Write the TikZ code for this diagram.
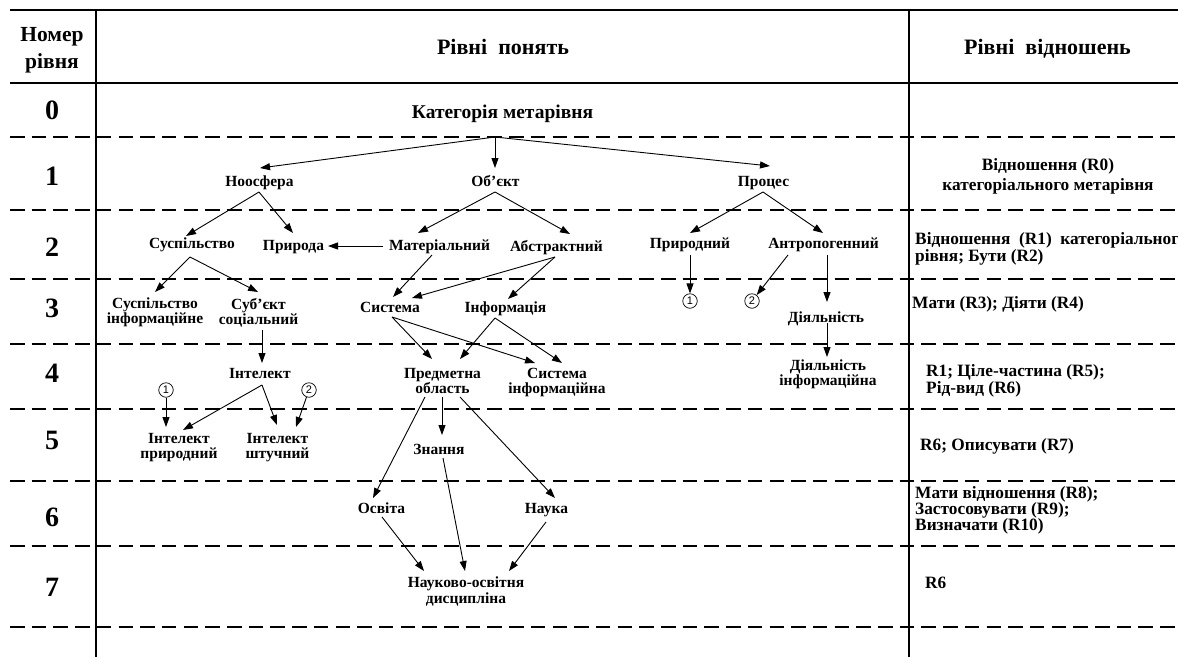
\documentclass[tikz,border=0pt]{standalone}
\usepackage{fontspec}
\setmainfont{Liberation Serif}
\setsansfont{Liberation Sans}
\usetikzlibrary{arrows.meta,calc}
\tikzset{
  cpt/.style={font=\bfseries\fontsize{15.5}{15}\selectfont, inner sep=0pt, align=center, anchor=north},
  one/.style={text height=10pt, text depth=0pt},
  rel/.style={font=\bfseries\fontsize{17.3}{16}\selectfont, inner sep=0pt, align=left, anchor=north west},
  num/.style={font=\bfseries\fontsize{28}{28}\selectfont, inner sep=0pt},
  hdr/.style={font=\bfseries\fontsize{22}{22}\selectfont, inner sep=0pt, anchor=base},
  arr/.style={-{Triangle[length=10pt,width=7pt]}, line width=0.9pt},
  circ/.style={circle, draw, line width=0.7pt, minimum size=14.5pt, inner sep=0pt, font=\sffamily\fontsize{11}{11}\selectfont},
  dl/.style={line width=2pt, dash pattern=on 14.5pt off 7.2pt},
  sl/.style={line width=2pt},
}
\begin{document}
\begin{tikzpicture}[x=1pt,y=-1pt]
\useasboundingbox (0,0) rectangle (1178,657);
% table frame
\draw[sl] (10,10) -- (1178,10);
\draw[sl] (10,83) -- (1178,83);
\draw[sl] (96,10) -- (96,657);
\draw[sl] (909,10) -- (909,657);
\foreach \yy in {137,210,279,344,409,481,546,627}
  \draw[dl] (10,\yy) -- (1178,\yy);
% headers
\node[font=\bfseries\fontsize{21.5}{27}\selectfont, inner sep=0pt, align=center, anchor=north] (hnum) at (52,27.5) {Номер\\рівня};
\node[hdr] (hcon) at (503,54) {Рівні\ \ понять};
\node[hdr] (hrel) at (1047.5,54) {Рівні\ \ відношень};
% level numbers
\node[num] (n0) at (52,110) {0};
\node[num] (n1) at (52,176.5) {1};
\node[num] (n2) at (52,247) {2};
\node[num] (n3) at (52,308) {3};
\node[num] (n4) at (52,373) {4};
\node[num] (n5) at (52,440) {5};
\node[num] (n6) at (52,517) {6};
\node[num] (n7) at (52,587.5) {7};
% concepts
\node[cpt,one,font=\bfseries\fontsize{19.5}{19}\selectfont,text height=13pt] (cat) at (502.5,105) {Категорія метарівня};
\node[cpt,one] (noo) at (259.5,176) {Ноосфера};
\node[cpt,one] (obj) at (495.5,176) {Об’єкт};
\node[cpt,one] (proc) at (763.5,176) {Процес};
\node[cpt,one] (susp) at (192,238) {Суспільство};
\node[cpt,one] (pryr) at (293.5,240) {Природа};
\node[cpt,one] (mat) at (439.5,240) {Матеріальний};
\node[cpt,one] (abs) at (556.5,241) {Абстрактний};
\node[cpt,one] (pryrd) at (690,238) {Природний};
\node[cpt,one] (antr) at (823.5,238) {Антропогенний};
\node[cpt] (suspinf) at (155,298) {Суспільство\\інформаційне};
\node[cpt] (subj) at (258.5,298) {Суб’єкт\\соціальний};
\node[cpt,one] (syst) at (390,302) {Система};
\node[cpt,one] (inf) at (505.5,302) {Інформація};
\node[cpt,one] (diyal) at (826,312) {Діяльність};
\node[cpt] (diyinf) at (828,360) {Діяльність\\інформаційна};
\node[cpt,one] (intel) at (260,368) {Інтелект};
\node[cpt] (pred) at (442.5,368) {Предметна\\область};
\node[cpt] (sysinf) at (557,368) {Система\\інформаційна};
\node[cpt] (intp) at (179,433) {Інтелект\\природний};
\node[cpt] (ints) at (277.5,433) {Інтелект\\штучний};
\node[cpt,one] (znan) at (439,444) {Знання};
\node[cpt,one] (osv) at (381.5,503) {Освіта};
\node[cpt,one] (nauk) at (546.5,503) {Наука};
\node[cpt,font=\bfseries\fontsize{15.5}{14}\selectfont] (ndisc) at (466,577) {Науково-освітня\\дисципліна};
% circled references
\node[circ] (c1a) at (690,301) {1};
\node[circ] (c2a) at (752,301) {2};
\node[circ] (c1b) at (166,390) {1};
\node[circ] (c2b) at (309,390) {2};
% relations column
\node[rel,anchor=north,align=center,font=\bfseries\fontsize{17.3}{20}\selectfont] (r0) at (1048,158.2) {Відношення (R0)\\категоріального метарівня};
\node[rel,font=\bfseries\fontsize{17.3}{13}\selectfont] (r1) at (915,232.2) {Відношення\ \ (R1)\ \ категоріального\\рівня; Бути (R2)};
\node[rel] (r3) at (912,296.2) {Мати (R3); Діяти (R4)};
\node[rel,font=\bfseries\fontsize{17.3}{15}\selectfont] (r5) at (926,364.2) {R1; Ціле-частина (R5);\\Рід-вид (R6)};
\node[rel] (r7) at (920,438.2) {R6; Описувати (R7)};
\node[rel] (r8) at (915,486.2) {Мати відношення (R8);\\Застосовувати (R9);\\Визначати (R10)};
\node[rel] (r6) at (925,576.7) {R6};
% connectors
\draw[arr] ($(cat.north)+(-7.5,32)$) -- ($(noo.north)+(0.5,-8)$);
\draw[arr] ($(cat.north)+(-7.5,32)$) -- ($(obj.north)+(-0.5,-8)$);
\draw[arr] ($(cat.north)+(-7.5,32)$) -- ($(proc.north)+(6.5,-10)$);
\draw[arr] ($(noo.north)+(-0.5,16)$) -- ($(susp.north)+(-6,-2)$);
\draw[arr] ($(noo.north)+(-0.5,16)$) -- ($(pryr.north)+(-0.5,-7)$);
\draw[arr] ($(obj.north)+(-0.5,16)$) -- ($(mat.north)+(-21.5,-7)$);
\draw[arr] ($(obj.north)+(-0.5,16)$) -- ($(abs.north)+(13.5,-7)$);
\draw[arr] ($(proc.north)+(-0.5,16)$) -- ($(pryrd.north)+(0,-5)$);
\draw[arr] ($(proc.north)+(-0.5,16)$) -- ($(antr.north)+(-0.5,-5)$);
\draw[arr] ($(mat.north)+(-56.5,6)$) -- ($(pryr.north)+(34.5,6)$);
\draw[arr] ($(susp.north)+(-2,19)$) -- ($(suspinf.north)+(0,-6)$);
\draw[arr] ($(susp.north)+(-2,19)$) -- ($(subj.north)+(-0.5,-6)$);
\draw[arr] ($(mat.north)+(-7.5,15)$) -- ($(syst.north)+(3,-5)$);
\draw[arr] ($(abs.north)+(-1.5,16)$) -- ($(syst.north)+(22,-4)$);
\draw[arr] ($(abs.north)+(-1.5,16)$) -- ($(inf.north)+(2.5,-3)$);
\draw[arr] ($(pryrd.north)+(0,17)$) -- (c1a);
\draw[arr] ($(antr.north)+(-35.5,17)$) -- (c2a);
\draw[arr] ($(antr.north)+(3.5,17)$) -- ($(diyal.north)+(1,-10)$);
\draw[arr] ($(diyal.north)+(1,11)$) -- ($(diyinf.north)+(-1,-3)$);
\draw[arr] ($(subj.north)+(3.5,32)$) -- ($(intel.north)+(2,-5)$);
\draw[arr] ($(syst.north)+(2,15)$) -- ($(pred.north)+(-10.5,-9)$);
\draw[arr] ($(syst.north)+(2,15)$) -- ($(sysinf.north)+(-22,-5)$);
\draw[arr] ($(inf.north)+(-10.5,16)$) -- ($(pred.north)+(17.5,-9)$);
\draw[arr] ($(inf.north)+(-10.5,16)$) -- ($(sysinf.north)+(5,-5)$);
\draw[arr] ($(intel.north)+(2,17)$) -- ($(intp.north)+(4,-3)$);
\draw[arr] ($(intel.north)+(2,17)$) -- ($(ints.north)+(-0.5,-8)$);
\draw[arr] (c1b) -- ($(intp.north)+(-13,-6)$);
\draw[arr] (c2b) -- ($(ints.north)+(18.5,-6)$);
\draw[arr] ($(pred.north)+(-0.5,29)$) -- ($(znan.north)+(3,-9)$);
\draw[arr] ($(pred.north)+(-17.5,29)$) -- ($(osv.north)+(-8.5,-5)$);
\draw[arr] ($(pred.north)+(17.5,29)$) -- ($(nauk.north)+(8.5,-5)$);
\draw[arr] ($(znan.north)+(4,14)$) -- ($(ndisc.north)+(-1,-6)$);
\draw[arr] ($(osv.north)+(0.5,14)$) -- ($(ndisc.north)+(-42,-6)$);
\draw[arr] ($(nauk.north)+(-0.5,19)$) -- ($(ndisc.north)+(43,-6)$);
\end{tikzpicture}
\end{document}
